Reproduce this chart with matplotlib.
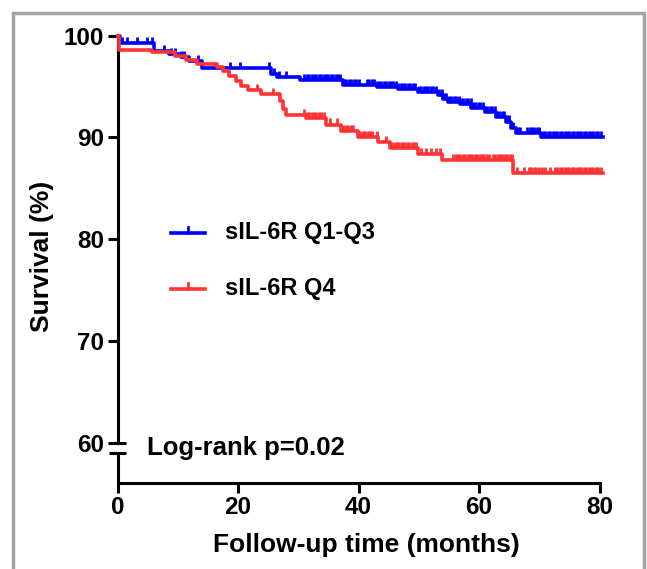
import numpy as np
import matplotlib
matplotlib.use('Agg')
import matplotlib.pyplot as plt
from matplotlib.lines import Line2D
from matplotlib.patches import Rectangle

plt.rcParams['font.family'] = ['Liberation Sans', 'DejaVu Sans']
plt.rcParams['font.weight'] = 'bold'

group_names = ['sIL-6R Q1-Q3', 'sIL-6R Q4']
group_colors = ['#0000ff', '#ff3333']
x_ticks = [0, 20, 40, 60, 80]
y_ticks = [60, 70, 80, 90, 100]
x_title = 'Follow-up time (months)'
y_title = 'Survival (%)'
test_text = 'Log-rank p=0.02'

# Q1-Q3 (blue): step times and survival after each step
q13_times = [0, 0.4, 6.0, 8.5, 10.5, 11.8, 14.0, 25.5, 26.5, 30.3, 37.5, 43.0, 46.6,
             49.9, 53.2, 54.0, 54.8, 56.8, 58.7, 61.0, 62.9, 64.5, 65.3, 66.2, 70.3]
q13_surv = [100, 99.3, 98.5, 98.2, 97.85, 97.5, 96.8, 96.2, 95.9, 95.65, 95.15, 94.9, 94.7,
            94.45, 94.15, 93.8, 93.5, 93.25, 92.85, 92.5, 92.0, 91.55, 90.9, 90.4, 90.0]
q13_end = 80.5
q13_censored = [0.7, 1.6, 3.2, 4.9, 5.7, 7.8, 8.9, 9.5, 10.6, 11.1, 13.3, 18.7, 20.4,
                25.2, 26.0, 26.8, 27.9, 31.0, 31.4, 31.8, 32.2, 32.6, 33.0, 33.4, 33.8,
                34.2, 34.6, 35.0, 35.4, 35.8, 36.2, 36.6, 37.0, 37.6, 38.0, 38.4, 38.8,
                39.2, 39.6, 40.0, 41.4, 41.8, 42.2, 42.6, 43.0, 43.4, 43.8, 44.2, 44.6,
                45.0, 45.4, 45.8, 46.2, 46.6, 47.0, 47.4, 47.8, 48.2, 48.6, 49.0, 49.4,
                50.0, 50.4, 50.8, 51.2, 51.6, 52.0, 52.4, 52.8, 53.4, 53.8, 54.2, 54.6,
                55.0, 55.4, 55.8, 56.2, 56.6, 57.0, 57.4, 57.8, 58.2, 58.6, 59.0, 59.4,
                59.8, 60.2, 60.6, 61.0, 61.4, 61.8, 62.2, 62.6, 63.0, 63.4, 63.8, 64.2,
                64.6, 65.0, 65.6, 66.4, 66.8, 68.0, 68.4, 68.8, 69.2, 69.6, 70.0, 70.6,
                71.0, 71.4, 71.8, 72.2, 72.6, 73.0, 73.4, 73.8, 74.2, 74.6, 75.0, 75.4,
                75.8, 76.2, 76.6, 77.0, 77.4, 77.8, 78.2, 78.6, 79.0, 79.4, 79.8, 80.2]

# Q4 (red)
q4_times = [0, 0.3, 5.7, 9.5, 11.3, 13.2, 16.5, 17.5, 18.5, 19.7, 20.5, 21.6, 23.8,
            27.0, 27.4, 28.0, 31.3, 34.6, 37.1, 39.9, 43.3, 45.2, 49.9, 53.8, 65.7]
q4_surv = [100, 98.6, 98.4, 98.0, 97.6, 97.2, 96.9, 96.5, 96.0, 95.5, 95.0, 94.6, 94.25,
           93.6, 92.8, 92.2, 91.9, 91.25, 90.6, 90.0, 89.5, 88.95, 88.35, 87.75, 86.5]
q4_end = 80.5
q4_censored = [23.2, 25.8, 31.0, 31.4, 31.8, 32.2, 32.6, 33.0, 33.4, 33.8, 34.2, 35.2,
               36.5, 37.5, 37.9, 38.3, 38.7, 39.1, 40.3, 40.7, 41.1, 41.5, 41.9, 42.3,
               43.1, 44.5, 45.6, 46.0, 46.4, 46.8, 47.2, 47.6, 48.0, 48.4, 48.8, 49.2,
               49.6, 50.3, 51.2, 52.0, 52.8, 53.6, 55.7, 56.1, 56.5, 56.9, 57.3, 57.7,
               58.1, 58.5, 58.9, 59.3, 59.7, 60.1, 60.5, 60.9, 61.3, 61.7, 62.3, 62.7,
               63.1, 63.5, 63.9, 64.3, 64.7, 65.1, 65.5, 66.3, 67.5, 68.3, 68.7, 69.1,
               69.5, 69.9, 70.5, 70.9, 71.8, 72.6, 73.0, 73.4, 73.8, 74.2, 74.6, 75.0,
               75.4, 75.8, 76.2, 76.6, 77.0, 77.4, 77.8, 78.2, 78.6, 79.0, 79.4, 79.8,
               80.2]

W, H = 647, 569
fig = plt.figure(figsize=(W / 100, H / 100), dpi=100)

def fx(px):
    return px / W

def fy(py):
    return 1 - py / H

y_low = 56.04
ax = fig.add_axes([fx(117.5), fy(483), (599.5 - 117.5) / W, (483 - 35.5) / H])
ax.set_xlim(0, 80)
ax.set_ylim(y_low, 100)

groups = [(q13_times, q13_surv, q13_end, q13_censored),
          (q4_times, q4_surv, q4_end, q4_censored)]
for (t, s, t_end, cens), color in zip(groups, group_colors):
    tt = list(t) + [t_end]
    ss = list(s) + [s[-1]]
    ax.step(tt, ss, where='post', color=color, lw=2.6, clip_on=False, zorder=3)
    idx = np.searchsorted(t, cens, side='right') - 1
    cy = np.array(s)[idx]
    ax.vlines(cens, cy, cy + 0.6, color=color, lw=2.0, clip_on=False, zorder=3)

for side in ['top', 'right']:
    ax.spines[side].set_visible(False)
ax.spines['left'].set_linewidth(2.2)
ax.spines['bottom'].set_linewidth(2.2)
ax.spines['left'].set_bounds(60, 100)

# broken y axis
gap_low = 58.97
ax.plot([0, 0], [y_low, gap_low], color='black', lw=2.2, clip_on=False,
        solid_capstyle='butt', zorder=4)
for yb in [60, gap_low]:
    ax.plot([-1.4, 1.4], [yb, yb], color='black', lw=2.2, clip_on=False,
            solid_capstyle='butt', zorder=4)

ax.set_xticks(x_ticks)
ax.set_yticks(y_ticks)
ax.tick_params(width=2.2, length=7.5, labelsize=17.5)
ax.tick_params(axis='x', pad=2)
ax.tick_params(axis='y', pad=2)
for lab in ax.get_xticklabels() + ax.get_yticklabels():
    lab.set_fontweight('bold')

fig.text(fx(366.5), fy(545), x_title, ha='center', va='center', fontsize=19,
         fontweight='bold')
fig.text(fx(42.5), fy(256), y_title, ha='center', va='center', fontsize=19,
         fontweight='bold', rotation=90)

# legend
for i, (name, color) in enumerate(zip(group_names, group_colors)):
    ly = [233, 289][i]
    fig.add_artist(Line2D([fx(171), fx(205)], [fy(ly), fy(ly)], color=color, lw=2.6))
    fig.add_artist(Line2D([fx(188), fx(188)], [fy(ly), fy(ly - 6)], color=color, lw=2.0))
    fig.text(fx(225), fy(ly), name, ha='left', va='center', fontsize=17, fontweight='bold')

fig.text(fx(147), fy(448), test_text, ha='left', va='center', fontsize=18.5,
         fontweight='bold')

fig.add_artist(Rectangle((fx(13), -0.1), fx(643.5) - fx(13), fy(12.5) + 0.1,
                         transform=fig.transFigure, fill=False, edgecolor='#a3a3a3',
                         lw=2.5))

fig.savefig('out.png', dpi=100)
